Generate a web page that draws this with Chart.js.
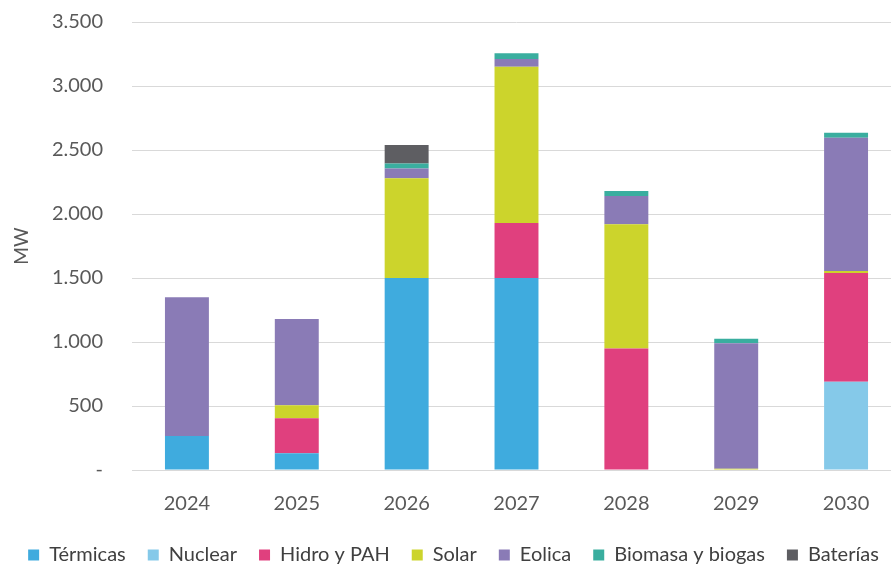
<!DOCTYPE html>
<html>
<head>
<meta charset="utf-8">
<script src="https://cdn.jsdelivr.net/npm/chart.js@4/dist/chart.umd.min.js"></script>
<style>
html,body{margin:0;padding:0;background:#fff;overflow:hidden;}
#wrap{width:901px;height:567px;position:relative;}
</style>
</head>
<body>
<div id="wrap"><canvas id="c"></canvas></div>
<script>
const years = ['2024','2025','2026','2027','2028','2029','2030'];
const termicas = [265, 130, 1500, 1500, 0, 0, 0];
const nuclear  = [0, 0, 0, 0, 0, 0, 690];
const hidro    = [0, 275, 0, 430, 950, 0, 850];
const solar    = [0, 100, 780, 1220, 970, 10, 15];
const eolica   = [1085, 675, 75, 60, 220, 980, 1040];
const biomasa  = [0, 0, 40, 45, 40, 35, 40];
const baterias = [0, 0, 145, 0, 0, 0, 0];
const yTicks = [0, 500, 1000, 1500, 2000, 2500, 3000, 3500];

const series = [
  ['Térmicas', termicas, '#3FABDE'],
  ['Nuclear', nuclear, '#85C9E9'],
  ['Hidro y PAH', hidro, '#E0407E'],
  ['Solar', solar, '#CCD42C'],
  ['Eolica', eolica, '#8A7BB6'],
  ['Biomasa y biogas', biomasa, '#3AAE9F'],
  ['Baterías', baterias, '#5E5E62']
];

const fmt = v => v === 0 ? '-' : v.toLocaleString('de-DE');
const F = 'Lato';

new Chart(document.getElementById('c'), {
  type: 'bar',
  data: {
    labels: years,
    datasets: series.map(([label, data, color]) => ({
      label, data, backgroundColor: color, borderWidth: 0,
      categoryPercentage: 0.8, barPercentage: 0.5
    }))
  },
  options: {
    responsive: true,
    maintainAspectRatio: false,
    animation: false,
    layout: { padding: { top: 0, right: 0, left: 6, bottom: -8 } },
    plugins: {
      tooltip: { enabled: false },
      legend: {
        position: 'bottom',
        labels: {
          font: { family: F, size: 20 },
          color: '#404040',
          boxWidth: 11, boxHeight: 11, padding: 22
        }
      }
    },
    scales: {
      x: {
        stacked: true,
        grid: { display: false },
        border: { color: '#d9d9d9', width: 1 },
        ticks: { font: { family: F, size: 20 }, color: '#595959', padding: 14 },
        afterFit: axis => { axis.height = 53; }
      },
      y: {
        stacked: true,
        min: 0, max: 3500,
        afterBuildTicks: axis => { axis.ticks = yTicks.map(v => ({ value: v })); },
        afterFit: axis => { axis.width = 126; axis.paddingTop = 22; axis.paddingBottom = 12; },
        grid: { color: '#d9d9d9', lineWidth: 1, drawTicks: false },
        border: { display: false },
        ticks: { font: { family: F, size: 20 }, color: '#595959', padding: 29, callback: v => fmt(v) },
        title: { display: true, text: 'MW', font: { family: F, size: 19 }, color: '#595959', padding: { bottom: 4 } }
      }
    }
  }
});
</script>
</body>
</html>
